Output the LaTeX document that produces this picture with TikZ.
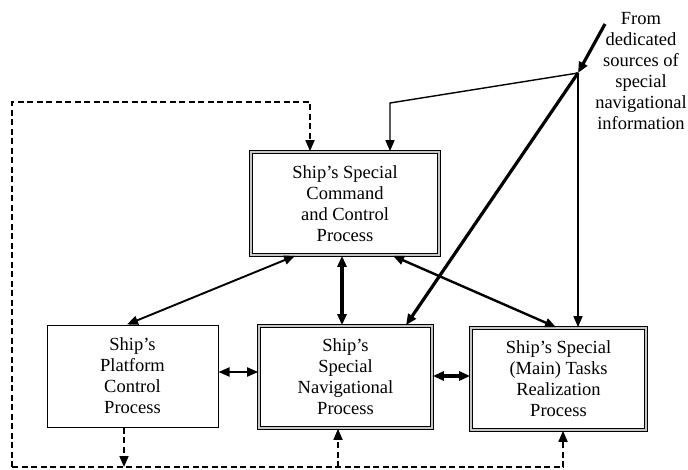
\documentclass[tikz,border=0pt]{standalone}
\usepackage{fontspec}
\setmainfont{Liberation Serif}
\usetikzlibrary{arrows.meta}
\begin{document}
\begin{tikzpicture}[x=1pt,y=-1pt,
  txt/.style={font=\fontsize{18.5}{21}\selectfont, align=center, inner sep=0pt},
  dbox/.style={txt, draw, line width=1.7pt, double=gray!45, double distance=1.4pt},
  sbox/.style={txt, draw, line width=1pt},
  tip/.style={-{Triangle[length=11pt,width=9pt]}},
  btip/.style={{Triangle[length=11pt,width=9pt]}-{Triangle[length=11pt,width=9pt]}},
  dashline/.style={line width=1.7pt, dash pattern=on 6pt off 3.5pt}
]
\useasboundingbox (0,0) rectangle (688,469);
\node[dbox, minimum width=188pt, minimum height=103pt] (cmd) at (345,203.5)
  {Ship's Special\\Command\\and Control\\Process};
\node[sbox, minimum width=171pt, minimum height=102pt] (pl) at (132.5,376)
  {Ship's\\Platform\\Control\\Process};
\node[dbox, minimum width=173pt, minimum height=102pt] (nav) at (345.5,377)
  {Ship's\\Special\\Navigational\\Process};
\node[dbox, minimum width=175pt, minimum height=102pt] (tsk) at (558.5,379)
  {Ship's Special\\(Main) Tasks\\Realization\\Process};
\node[txt] (src) at (641,71)
  {From\\dedicated\\sources of\\special\\navigational\\information};

\coordinate (s0) at (605,24);
\coordinate (J) at (578,73);
\coordinate (b1) at (390,103);
\coordinate (nt) at (406,0);
\coordinate (d1) at (310,102);
\coordinate (d2) at (12,102);
\coordinate (d3) at (12,467);
\coordinate (d4) at (563,467);
\coordinate (d5) at (338,467);
\coordinate (d6) at (124,467);

% from sources
\draw[tip, line width=3.2pt] (s0) -- (J);
\draw[tip, line width=1.4pt] (J) -- (b1) -- (b1 |- cmd.north);
\draw[tip, line width=3.2pt] (J) -- (nt |- nav.north);
\draw[tip, line width=1.4pt] (J) -- (J |- tsk.north);

% bidirectional
\draw[btip, line width=1.9pt] (cmd.south -| 295,0) -- (pl.north -| 127,0);
\draw[btip, line width=3.2pt] (cmd.south -| 342,0) -- (nav.north -| 342,0);
\draw[btip, line width=2.4pt] (cmd.south -| 393,0) -- (tsk.north -| 556,0);
\draw[btip, line width=1.9pt] (pl.east |- 0,372) -- (nav.west |- 0,372);
\draw[btip, line width=3.4pt] (nav.east |- 0,376) -- (tsk.west |- 0,376);

% dashed loop
\draw[dashline, tip] (d3) -- (d2) -- (d1) -- (d1 |- cmd.north);
\draw[dashline, tip] (d3) -- (d4) -- (d4 |- tsk.south);
\draw[dashline, tip] (d5) -- (d5 |- nav.south);
\draw[dashline, tip] (pl.south -| d6) -- (d6);
\end{tikzpicture}
\end{document}
